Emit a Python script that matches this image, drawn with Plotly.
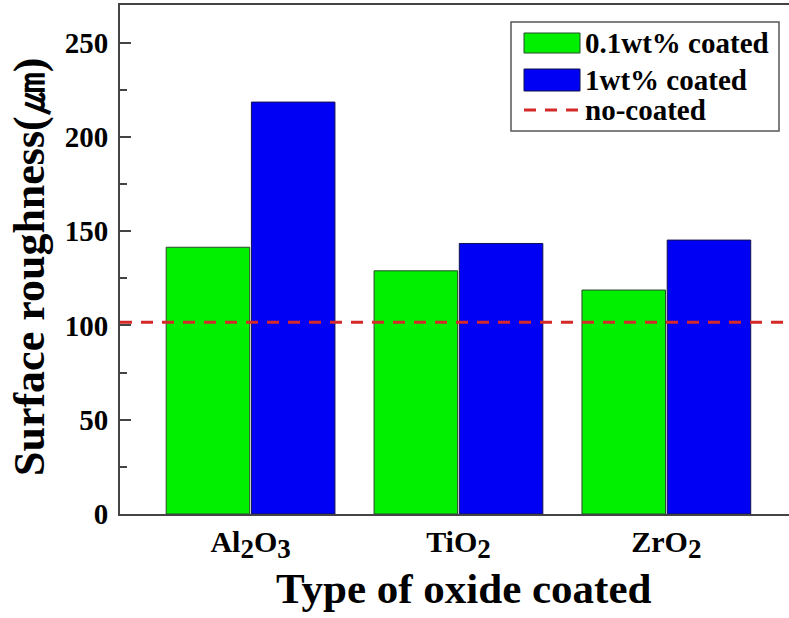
import plotly.graph_objects as go

# Surface roughness of oxide-coated samples
SUB = "<sub><span style='font-size:27px'>{}</span></sub>"
oxides = [
    "Al" + SUB.format(2) + "O" + SUB.format(3),
    "TiO" + SUB.format(2),
    "ZrO" + SUB.format(2),
]
coated_01wt = [141.5, 129.0, 118.8]
coated_1wt = [218.5, 143.5, 145.3]
no_coated = 101.7

y_ticks = [0, 50, 100, 150, 200, 250]

FONT = "Liberation Serif, Times New Roman, serif"
GREEN = "#00f000"
BLUE = "#0000f5"
RED = "#d42a2a"

W, H = 789, 618
L, R, T, B = 120, 0, 5, 104


def px(x):
    """Pixel x -> paper x."""
    return (x - L) / (W - L - R)


def py(y):
    """Pixel y -> paper y."""
    return (H - B - y) / (H - T - B)


fig = go.Figure()
fig.add_trace(go.Bar(
    x=oxides, y=coated_01wt, name="0.1wt% coated",
    marker=dict(color=GREEN, line=dict(color="#2a4a2a", width=1)),
    showlegend=False,
))
fig.add_trace(go.Bar(
    x=oxides, y=coated_1wt, name="1wt% coated",
    marker=dict(color=BLUE, line=dict(color="#101050", width=1)),
    showlegend=False,
))

# reference level of the uncoated sample
fig.add_hline(y=no_coated, line=dict(color=RED, width=3, dash="12px,9px"),
              layer="above")

shapes = []
annotations = []

# legend box with drop shadow
shapes.append(dict(type="rect", xref="paper", yref="paper",
                   x0=px(517), x1=px(785), y0=py(138), y1=py(28),
                   fillcolor="black", line=dict(width=0), layer="above"))
shapes.append(dict(type="rect", xref="paper", yref="paper",
                   x0=px(511), x1=px(779), y0=py(131), y1=py(22),
                   fillcolor="white", line=dict(color="#555", width=1.5),
                   layer="above"))
shapes.append(dict(type="rect", xref="paper", yref="paper",
                   x0=px(524), x1=px(580), y0=py(53), y1=py(33),
                   fillcolor=GREEN, line=dict(color="#2a4a2a", width=1),
                   layer="above"))
shapes.append(dict(type="rect", xref="paper", yref="paper",
                   x0=px(524), x1=px(580), y0=py(91), y1=py(69),
                   fillcolor=BLUE, line=dict(color="#101050", width=1),
                   layer="above"))
shapes.append(dict(type="line", xref="paper", yref="paper",
                   x0=px(524), x1=px(580), y0=py(110), y1=py(110),
                   line=dict(color=RED, width=3, dash="12px,9px"),
                   layer="above"))

legend_items = [("0.1wt% coated", 43), ("1wt% coated", 80), ("no-coated", 110)]
for text, yc in legend_items:
    annotations.append(dict(
        text=text, xref="paper", yref="paper",
        x=px(583), y=py(yc), xanchor="left", yanchor="middle",
        showarrow=False,
        font=dict(family=FONT, size=29, color="black", weight="bold"),
    ))

# axis titles
annotations.append(dict(
    text="Surface roughness(㎛)", xref="paper", yref="paper",
    x=px(30), y=py(267), textangle=-90, xanchor="center", yanchor="middle",
    showarrow=False,
    font=dict(family=FONT, size=44, color="black", weight="bold"),
))
annotations.append(dict(
    text="Type of oxide coated", xref="paper", yref="paper",
    x=px(463), y=py(588), xanchor="center", yanchor="middle",
    showarrow=False,
    font=dict(family=FONT, size=43, color="black", weight="bold"),
))

fig.update_layout(
    width=W, height=H,
    margin=dict(l=L, r=R, t=T, b=B, pad=0),
    paper_bgcolor="white", plot_bgcolor="white",
    barmode="group", bargap=0.18, bargroupgap=0.02,
    shapes=shapes, annotations=annotations,
    font=dict(family=FONT, color="black"),
)

fig.update_xaxes(
    type="category", range=[-0.628, 2.59],
    showline=True, linecolor="#444", linewidth=2, mirror=True,
    ticks="", showgrid=False, zeroline=False,
    tickfont=dict(family=FONT, size=30, color="black", weight="bold"),
)
fig.update_yaxes(
    range=[0, 270], tickvals=y_ticks,
    showline=True, linecolor="#444", linewidth=2,
    ticks="inside", ticklen=11, tickwidth=2, tickcolor="#444",
    minor=dict(dtick=25, ticks="inside", ticklen=7, tickwidth=1.5,
               tickcolor="#444", showgrid=False),
    showgrid=False, zeroline=False,
    tickfont=dict(family=FONT, size=29, color="black", weight="bold"),
    ticklabelstandoff=4,
)

fig.write_html("out.html")
